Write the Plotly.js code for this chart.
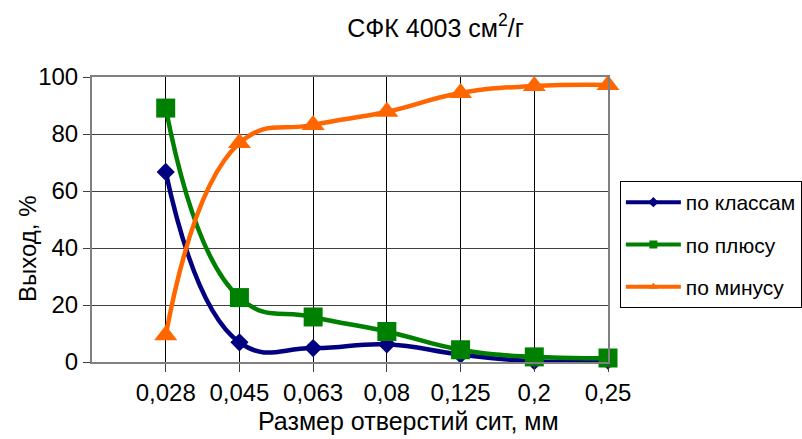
<!DOCTYPE html>
<html>
<head>
<meta charset="utf-8">
<script src="https://cdn.plot.ly/plotly-3.0.1.min.js"></script>
<style>html,body{margin:0;padding:0;background:#fff;}#chart{width:802px;height:439px;}</style>
</head>
<body>
<div id="chart"></div>
<script>
var categories = ["0,028", "0,045", "0,063", "0,08", "0,125", "0,2", "0,25"];
var poKlassam = [66.7, 6.9, 4.9, 6.2, 2.6, 0.3, 0.5];
var poPlyusu = [89.1, 22.6, 15.8, 10.7, 4.3, 1.8, 1.4];
var poMinusu = [9.4, 76.8, 83.2, 87.8, 94.4, 96.8, 97.2];
var seriesNames = ["по классам", "по плюсу", "по минусу"];
var yTicks = [0, 20, 40, 60, 80, 100];

var font = "Arial, 'Liberation Sans', sans-serif";
function series(y, name, color, symbol, size) {
  return {
    x: categories, y: y, name: name, type: "scatter", mode: "lines+markers",
    line: {color: color, width: 4.5, shape: "spline", smoothing: 1.3},
    marker: {color: color, symbol: symbol, size: size},
    showlegend: false, cliponaxis: false
  };
}
function legendEntry(name, color, symbol, group) {
  return {
    x: [null], y: [null], name: name, type: "scatter", mode: "lines+markers",
    line: {color: color, width: 4}, marker: {color: color, symbol: symbol, size: 8},
    legendgroup: group, showlegend: true
  };
}
var data = [
  series(poKlassam, seriesNames[0], "#000080", "diamond", 14),
  series(poPlyusu, seriesNames[1], "#008000", "square", 19),
  series(poMinusu, seriesNames[2], "#FF6600", "triangle-up", 20),
  legendEntry(seriesNames[0], "#000080", "diamond", "a"),
  legendEntry(seriesNames[1], "#008000", "square", "b"),
  legendEntry(seriesNames[2], "#FF6600", "triangle-up", "c")
];

var layout = {
  width: 802, height: 439,
  margin: {l: 92, r: 194, t: 77, b: 77, autoexpand: false},
  paper_bgcolor: "#fff", plot_bgcolor: "#fff",
  font: {family: font, color: "#000", size: 24},
  title: {text: "СФК 4003 см<sup>2</sup>/г", x: 0.543, xref: "container", xanchor: "center",
          y: 0.936, yref: "container", yanchor: "middle", font: {size: 25, family: font, color: "#000"}},
  xaxis: {
    type: "category", range: [-1, 6], automargin: false,
    showgrid: true, gridcolor: "#000", gridwidth: 1,
    showline: true, linecolor: "#808080", linewidth: 2, mirror: true,
    ticks: "outside", ticklen: 8, tickcolor: "#404040", tickwidth: 1,
    tickfont: {size: 24, family: font}, zeroline: false, fixedrange: true
  },
  yaxis: {
    range: [0, 100], tickvals: yTicks, ticktext: yTicks.map(String), automargin: false,
    showgrid: true, gridcolor: "#404040", gridwidth: 1,
    showline: true, linecolor: "#808080", linewidth: 2, mirror: true,
    ticks: "outside", ticklen: 7, tickcolor: "#404040", tickwidth: 1,
    tickfont: {size: 24, family: font}, zeroline: false, fixedrange: true
  },
  legend: {
    x: 1.023, xanchor: "left", y: 0.635, yanchor: "top",
    bordercolor: "#000", borderwidth: 1, bgcolor: "#fff",
    font: {size: 21, family: font, color: "#000"},
    traceorder: "grouped", tracegroupgap: 12, itemwidth: 55
  },
  annotations: [
    {text: "Размер отверстий сит, мм", xref: "paper", yref: "paper",
     x: (408 - 92) / 516, y: (362 - 421) / 285, xanchor: "center", yanchor: "middle",
     showarrow: false, font: {size: 25, family: font, color: "#000"}},
    {text: "Выход, %", xref: "paper", yref: "paper",
     x: (27 - 92) / 516, y: (362 - 249) / 285, xanchor: "center", yanchor: "middle",
     textangle: -90, showarrow: false, font: {size: 24, family: font, color: "#000"}}
  ]
};
Plotly.newPlot("chart", data, layout, {displayModeBar: false, staticPlot: true});
</script>
</body>
</html>
